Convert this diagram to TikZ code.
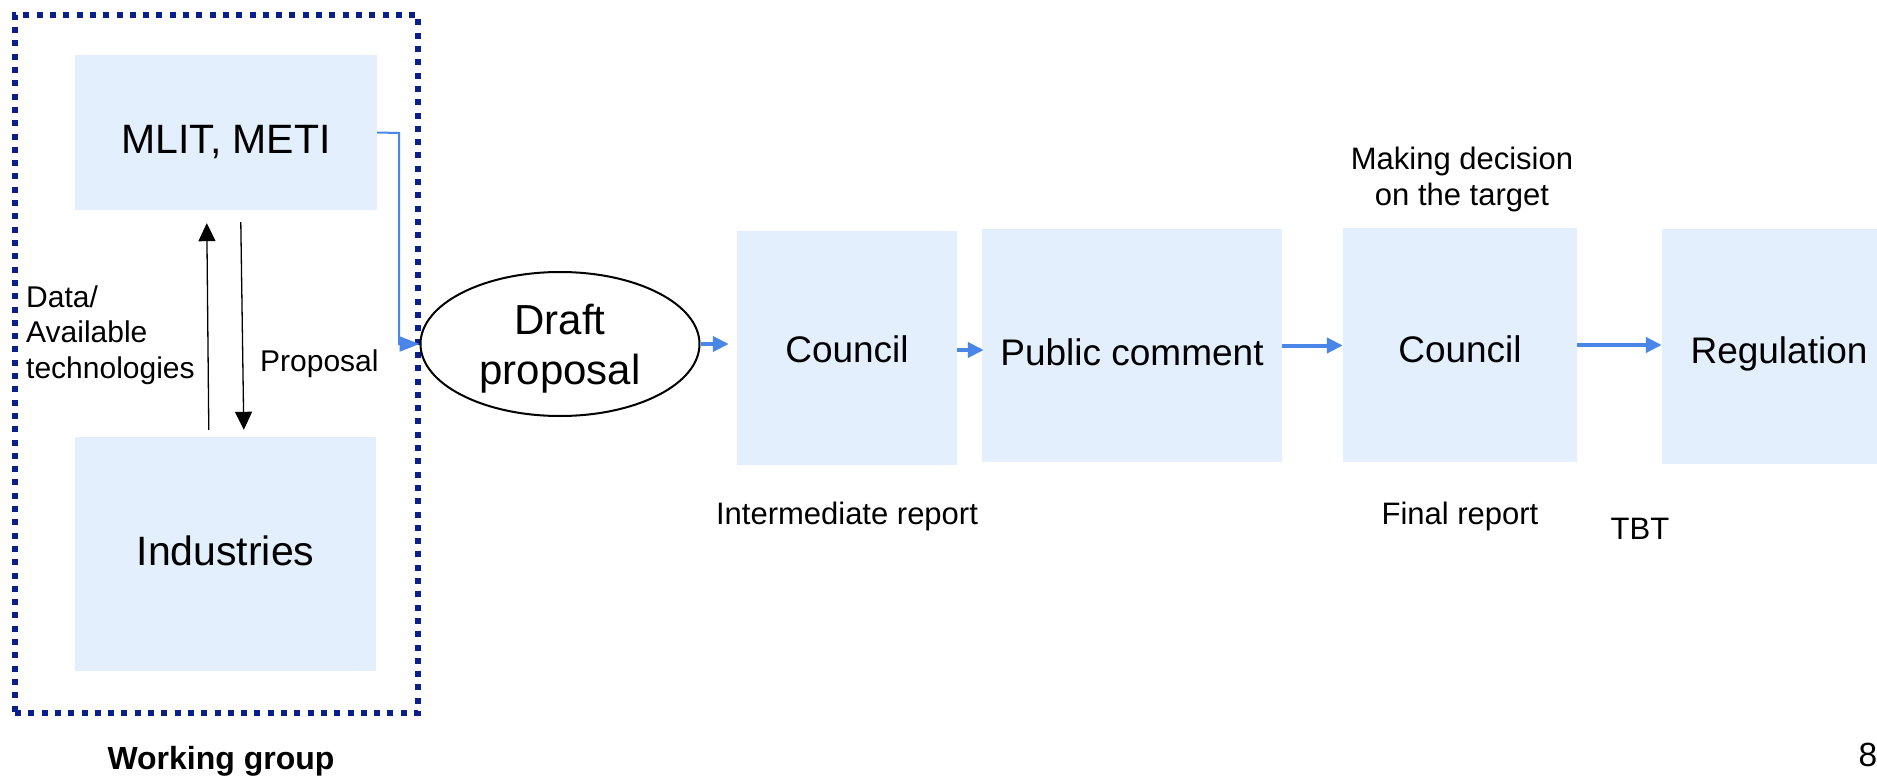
\documentclass[tikz,border=0pt]{standalone}
\usepackage{fontspec}
\setmainfont{Liberation Sans}
\usetikzlibrary{arrows.meta,shapes.geometric,calc}
\definecolor{boxblue}{HTML}{E3EFFD}
\definecolor{navy}{HTML}{0A1E8C}
\definecolor{arrowblue}{HTML}{4A86E8}
\tikzset{
  bluebox/.style={fill=boxblue, inner sep=0pt, text depth=0pt},
  bigtxt/.style={font=\fontsize{41}{52}\selectfont},
  midtxt/.style={font=\fontsize{37}{44}\selectfont},
  smalltxt/.style={font=\fontsize{31}{36}\selectfont, inner sep=0pt},
  flowarrow/.style={draw=arrowblue, line width=4pt, -{Triangle[length=16pt,width=15pt]}, arrowblue},
  thinblue/.style={draw=arrowblue, line width=2pt, -{Triangle[length=20pt,width=15pt]}, arrowblue},
  blackarrow/.style={draw=black, line width=1.3pt, -{Triangle[length=18pt,width=17pt]}},
  wgframe/.style={draw=navy, line width=6pt, dash pattern=on 6pt off 7.3pt, inner sep=0pt}
}
\begin{document}
\begin{tikzpicture}[x=1pt,y=-1pt]
\clip (0,0) rectangle (1877,776);
\fill[white] (0,0) rectangle (1877,776);

% working group frame
\node[wgframe, minimum width=403pt, minimum height=698pt] (wg) at (216.5,364) {};
\node[font=\bfseries\fontsize{32}{38}\selectfont, inner sep=0pt] (wglabel) at (221,761) {Working group};

% boxes in working group
\node[bluebox, bigtxt, text height=41pt, minimum width=302pt, minimum height=155pt] (mlit) at (226,132.5) {MLIT, METI};
\node[bluebox, bigtxt, text height=22pt, minimum width=301pt, minimum height=234pt] (ind) at (225.5,554) {Industries};

% vertical arrows
\draw[blackarrow] ($(ind.north west)+(134,-7)$) -- ($(mlit.south west)+(132,13)$);
\draw[blackarrow] ($(mlit.south west)+(166,12)$) -- ($(ind.north west)+(169,-7)$);
\node[smalltxt, font=\fontsize{30}{35.5}\selectfont, align=left, anchor=west] (data) at (26,335) {Data/\\Available\\technologies};
\node[smalltxt, font=\fontsize{30}{36}\selectfont, anchor=west] (prop) at (260,364) {Proposal};

% draft proposal
\node[ellipse, draw=black, line width=2pt, minimum width=279pt, minimum height=144pt, inner sep=0pt,
  label={[align=center, font=\fontsize{42}{50}\selectfont, inner sep=0pt, yshift=-5pt]center:Draft\\proposal}] (draft) at (560,344) {};
\coordinate (bend1) at (399,133);
\draw[thinblue] (mlit.east) -- (bend1) |- (draft.west);

% main flow
\node[bluebox, midtxt, text height=28pt, minimum width=220pt, minimum height=234pt] (council1) at (847,348) {Council};
\node[bluebox, midtxt, text height=39pt, minimum width=300pt, minimum height=233pt] (public) at (1132,345.5) {Public comment};
\node[bluebox, midtxt, text height=34pt, minimum width=234pt, minimum height=234pt] (council2) at (1460,345) {Council};
\node[bluebox, midtxt, text height=33pt, minimum width=234pt, minimum height=235pt] (reg) at (1779,346.5) {Regulation};

\draw[flowarrow, shorten >=8pt] (draft.east) -- (draft.east -| council1.west);
\draw[flowarrow, shorten >=-2pt] ($(council1.east)+(0,2)$) -- ($(council1.east -| public.west)+(0,2)$);
\draw[flowarrow] (public.east) -- (public.east -| council2.west);
\draw[flowarrow] (council2.east) -- (council2.east -| reg.west);

% labels
\node[smalltxt, align=center] (making) at (1462,179) {Making decision\\ on the target};
\node[smalltxt] (inter) at (847,516) {Intermediate report};
\node[smalltxt] (final) at (1460,516) {Final report};
\node[smalltxt] (tbt) at (1640,529) {TBT};
\node[font=\fontsize{33.5}{40}\selectfont, inner sep=0pt] (pnum) at (1868,755) {8};
\end{tikzpicture}
\end{document}
